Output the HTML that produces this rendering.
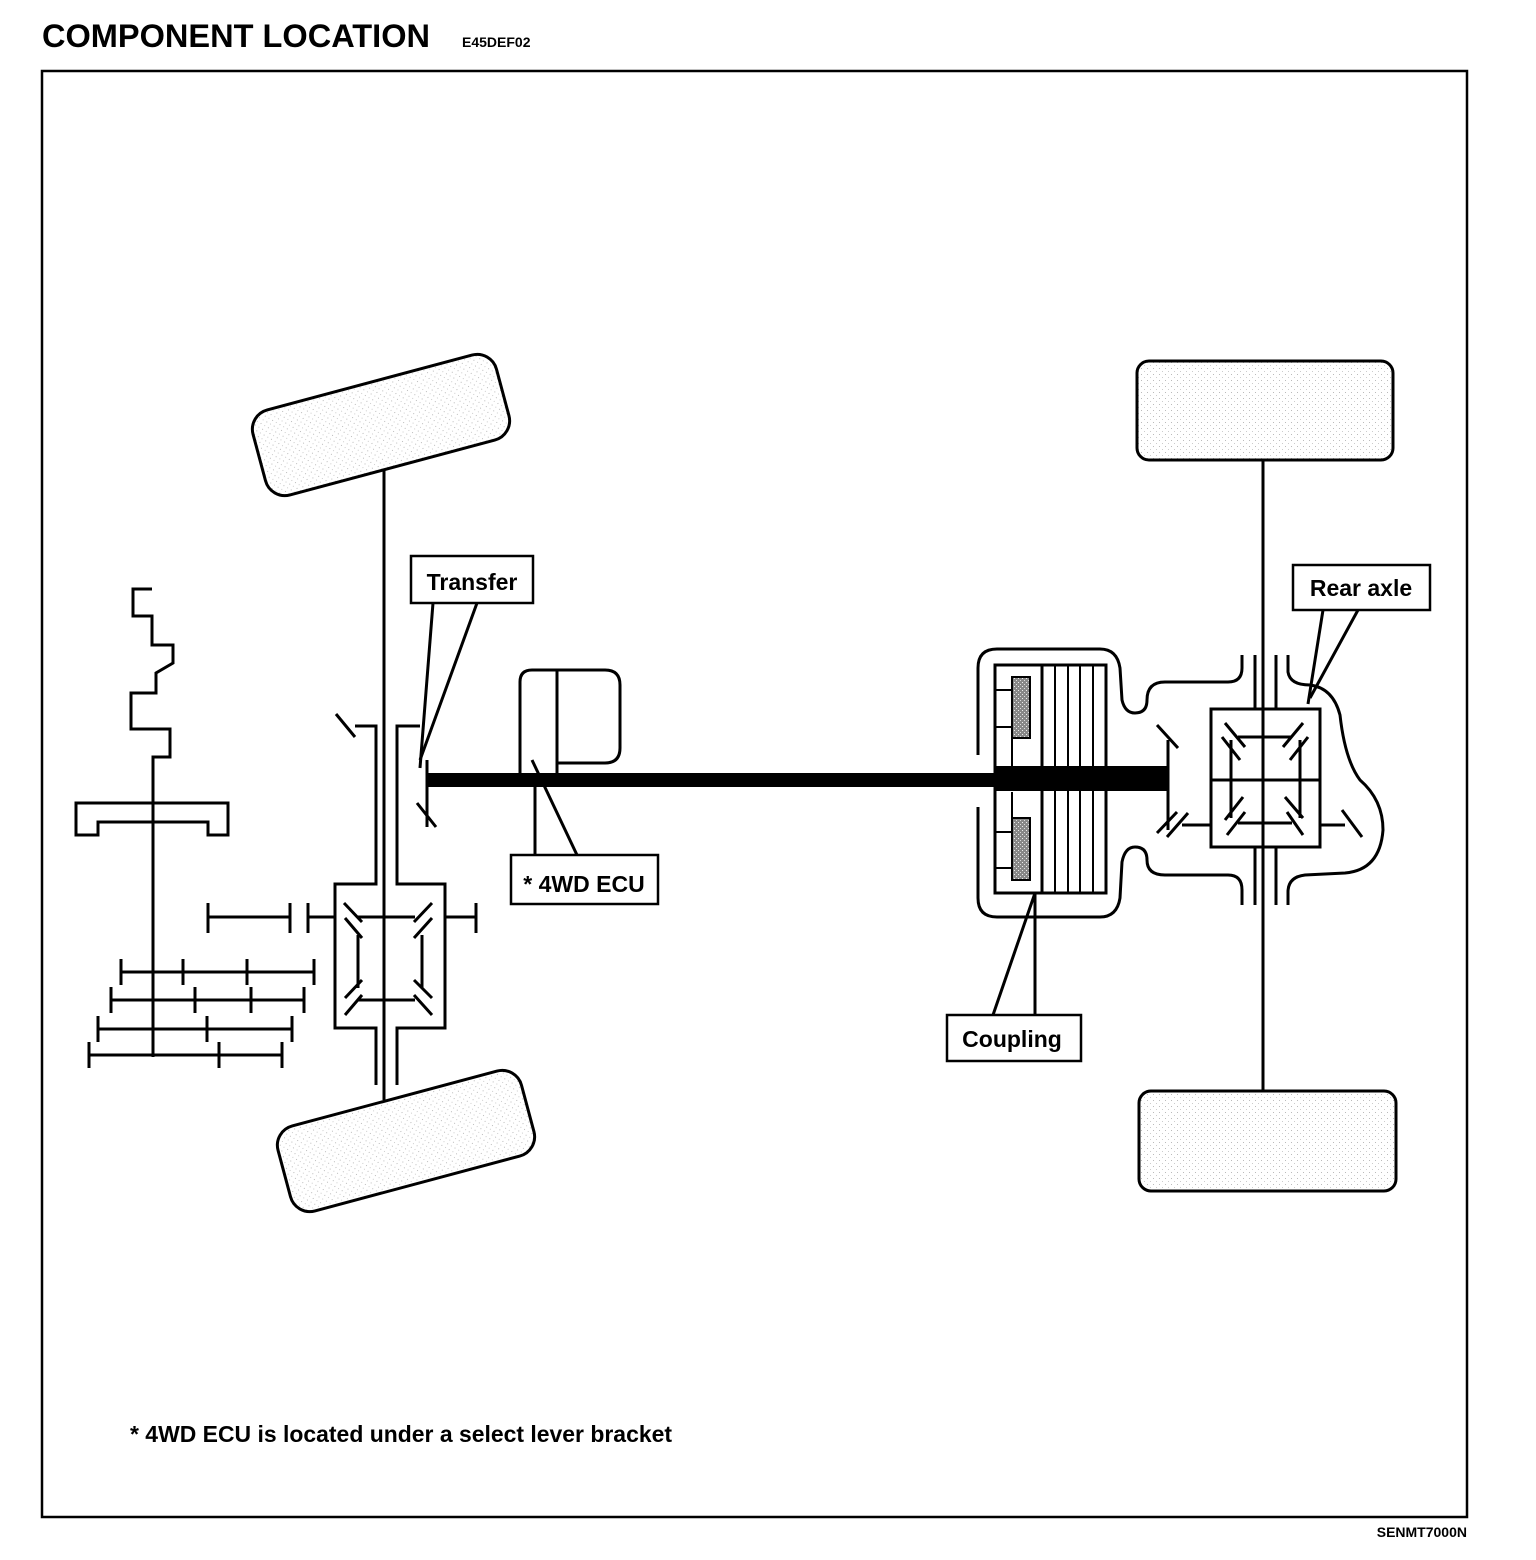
<!DOCTYPE html>
<html><head><meta charset="utf-8"><style>
html,body{margin:0;padding:0;background:#fff;}
svg{display:block;}
text{font-family:"Liberation Sans",Arial,sans-serif;}
</style></head><body>
<svg width="1536" height="1560" viewBox="0 0 1536 1560" xmlns="http://www.w3.org/2000/svg">
<defs>
<pattern id="dots" width="6" height="6" patternUnits="userSpaceOnUse">
<rect width="6" height="6" fill="#fff"/>
<rect x="1" y="2" width="1" height="1" fill="#bbb"/>
<rect x="4" y="5" width="1" height="1" fill="#ccc"/>
</pattern>
<pattern id="hatch" width="4" height="4" patternUnits="userSpaceOnUse">
<rect width="4" height="4" fill="#888"/>
<rect x="0" y="0" width="1" height="1" fill="#ddd"/>
<rect x="2" y="2" width="1" height="1" fill="#eee"/>
</pattern>
</defs>
<text x="42" y="47" font-size="32" font-weight="bold" textLength="388" lengthAdjust="spacingAndGlyphs">COMPONENT  LOCATION</text>
<text x="462" y="47" font-size="14" font-weight="bold">E45DEF02</text>
<rect x="42" y="71" width="1425" height="1446" fill="none" stroke="#000" stroke-width="2.5"/>
<text x="1467" y="1537" font-size="14" font-weight="bold" text-anchor="end">SENMT7000N</text>
<text x="130" y="1442" font-size="23" font-weight="bold" textLength="542" lengthAdjust="spacingAndGlyphs">* 4WD ECU is located under a select lever bracket</text>

<g stroke="#000" stroke-width="3" fill="none" stroke-linecap="butt" stroke-linejoin="miter">
<rect x="255" y="381" width="252" height="88" rx="20" transform="rotate(-15 381 425)" fill="url(#dots)"/>
<rect x="280" y="1097" width="252" height="88" rx="20" transform="rotate(-15 406 1141)" fill="url(#dots)"/>
<rect x="1137" y="361" width="256" height="99" rx="12" fill="url(#dots)"/>
<rect x="1139" y="1091" width="257" height="100" rx="12" fill="url(#dots)"/>

<line x1="384" y1="470" x2="384" y2="1100"/>
<line x1="336" y1="714" x2="355" y2="737"/>
<polyline points="355,726 376,726 376,884 335,884 335,1028 376,1028 376,1085"/>
<polyline points="420,726 397,726 397,884 445,884 445,1028 397,1028 397,1085"/>
<line x1="427" y1="760" x2="427" y2="827"/>
<line x1="417" y1="803" x2="436" y2="827"/>
<line x1="433" y1="603" x2="420" y2="768"/>
<line x1="477" y1="603" x2="420" y2="760"/>
<line x1="208" y1="917" x2="290" y2="917"/>
<line x1="208" y1="903" x2="208" y2="933"/>
<line x1="290" y1="903" x2="290" y2="933"/>
<line x1="308" y1="903" x2="308" y2="933"/>
<line x1="308" y1="917" x2="335" y2="917"/>
<line x1="445" y1="917" x2="476" y2="917"/>
<line x1="476" y1="903" x2="476" y2="933"/>
<line x1="358" y1="917" x2="415" y2="917"/>
<line x1="358" y1="1000" x2="415" y2="1000"/>
<line x1="358" y1="935" x2="358" y2="988"/>
<line x1="422" y1="935" x2="422" y2="988"/>
<line x1="344" y1="903" x2="362" y2="922"/>
<line x1="345" y1="918" x2="362" y2="938"/>
<line x1="432" y1="903" x2="414" y2="922"/>
<line x1="432" y1="918" x2="414" y2="938"/>
<line x1="362" y1="980" x2="345" y2="998"/>
<line x1="362" y1="995" x2="345" y2="1015"/>
<line x1="414" y1="980" x2="432" y2="998"/>
<line x1="414" y1="995" x2="432" y2="1015"/>

<polyline points="152,589 133,589 133,616 152,616 152,645 173,645 173,663 156,673 156,693 131,693 131,729 170,729 170,757 153,757 153,1057"/>
<polygon points="76,803 228,803 228,835 208,835 208,822 98,822 98,835 76,835"/>
<line x1="121" y1="972" x2="314" y2="972"/>
<line x1="121" y1="959" x2="121" y2="985"/><line x1="183" y1="959" x2="183" y2="985"/><line x1="247" y1="959" x2="247" y2="985"/><line x1="314" y1="959" x2="314" y2="985"/>
<line x1="111" y1="1000" x2="304" y2="1000"/>
<line x1="111" y1="987" x2="111" y2="1013"/><line x1="195" y1="987" x2="195" y2="1013"/><line x1="251" y1="987" x2="251" y2="1013"/><line x1="304" y1="987" x2="304" y2="1013"/>
<line x1="98" y1="1029" x2="292" y2="1029"/>
<line x1="98" y1="1016" x2="98" y2="1042"/><line x1="207" y1="1016" x2="207" y2="1042"/><line x1="292" y1="1016" x2="292" y2="1042"/>
<line x1="89" y1="1055" x2="282" y2="1055"/>
<line x1="89" y1="1042" x2="89" y2="1068"/><line x1="219" y1="1042" x2="219" y2="1068"/><line x1="282" y1="1042" x2="282" y2="1068"/>

<path d="M520,773 L520,682 Q520,670 532,670 L605,670 Q620,670 620,685 L620,748 Q620,763 605,763 L557,763"/>
<line x1="557" y1="670" x2="557" y2="775"/>
<line x1="535" y1="787" x2="535" y2="855"/>
<line x1="532" y1="760" x2="577" y2="855"/>

<path d="M978,755 L978,668 Q978,649 997,649 L1100,649 Q1117,649 1120,668 L1122,700 Q1125,713 1135,713 Q1147,713 1147,700 Q1147,682 1165,682 L1228,682 Q1242,682 1242,668 L1242,655"/>
<path d="M978,807 L978,898 Q978,917 997,917 L1100,917 Q1117,917 1120,898 L1122,862 Q1125,847 1135,847 Q1147,847 1147,860 Q1147,875 1165,875 L1228,875 Q1242,875 1242,890 L1242,905"/>
<rect x="995" y="665" width="111" height="228"/>
<line x1="1042" y1="665" x2="1042" y2="893"/>
<line x1="1055" y1="665" x2="1055" y2="893" stroke-width="2"/>
<line x1="1068" y1="665" x2="1068" y2="893" stroke-width="2"/>
<line x1="1080" y1="665" x2="1080" y2="893" stroke-width="2"/>
<line x1="1093" y1="665" x2="1093" y2="893" stroke-width="2"/>
<line x1="995" y1="690" x2="1012" y2="690" stroke-width="2"/>
<line x1="995" y1="727" x2="1012" y2="727" stroke-width="2"/>
<line x1="995" y1="832" x2="1012" y2="832" stroke-width="2"/>
<line x1="995" y1="868" x2="1012" y2="868" stroke-width="2"/>
<rect x="1012" y="677" width="18" height="61" fill="url(#hatch)" stroke-width="2"/>
<rect x="1012" y="818" width="18" height="62" fill="url(#hatch)" stroke-width="2"/>
<line x1="1012" y1="738" x2="1012" y2="766" stroke-width="2"/>
<line x1="1012" y1="792" x2="1012" y2="818" stroke-width="2"/>
<line x1="993" y1="1015" x2="1035" y2="893"/>
<line x1="1035" y1="893" x2="1035" y2="1015"/>

<line x1="1168" y1="740" x2="1168" y2="830"/>
<line x1="1157" y1="725" x2="1178" y2="748"/>
<line x1="1157" y1="833" x2="1177" y2="812"/>
<line x1="1167" y1="837" x2="1188" y2="813"/>
<line x1="1182" y1="825" x2="1211" y2="825"/>

<rect x="1211" y="709" width="109" height="138"/>
<line x1="1263" y1="460" x2="1263" y2="1091"/>
<line x1="1255" y1="655" x2="1255" y2="709"/>
<line x1="1276" y1="655" x2="1276" y2="709"/>
<line x1="1255" y1="847" x2="1255" y2="905"/>
<line x1="1276" y1="847" x2="1276" y2="905"/>
<path d="M1288,655 L1288,672 Q1290,685 1310,685 Q1333,688 1340,715 Q1345,760 1360,780 Q1383,800 1383,830 Q1380,870 1345,873 L1305,875 Q1288,877 1288,892 L1288,905"/>
<line x1="1211" y1="780" x2="1320" y2="780"/>
<line x1="1238" y1="737" x2="1292" y2="737"/>
<line x1="1238" y1="823" x2="1292" y2="823"/>
<line x1="1231" y1="740" x2="1231" y2="818"/>
<line x1="1300" y1="740" x2="1300" y2="818"/>
<line x1="1225" y1="723" x2="1245" y2="747"/>
<line x1="1222" y1="737" x2="1240" y2="760"/>
<line x1="1303" y1="723" x2="1283" y2="747"/>
<line x1="1308" y1="737" x2="1290" y2="760"/>
<line x1="1243" y1="797" x2="1225" y2="820"/>
<line x1="1245" y1="812" x2="1227" y2="835"/>
<line x1="1285" y1="797" x2="1303" y2="818"/>
<line x1="1287" y1="812" x2="1303" y2="835"/>
<line x1="1320" y1="825" x2="1345" y2="825"/>
<line x1="1342" y1="810" x2="1362" y2="837"/>
<line x1="1323" y1="610" x2="1308" y2="704"/>
<line x1="1358" y1="610" x2="1310" y2="698"/>
</g>

<rect x="427" y="773" width="570" height="14" fill="#000"/>
<rect x="995" y="766" width="172" height="25" fill="#000"/>

<g stroke="#000" stroke-width="2.5" fill="#fff">
<rect x="411" y="556" width="122" height="47"/>
<rect x="511" y="855" width="147" height="49"/>
<rect x="947" y="1015" width="134" height="46"/>
<rect x="1293" y="565" width="137" height="45"/>
</g>
<g font-size="23" font-weight="bold">
<text x="472" y="590" text-anchor="middle">Transfer</text>
<text x="584" y="892" text-anchor="middle">* 4WD ECU</text>
<text x="1012" y="1047" text-anchor="middle">Coupling</text>
<text x="1361" y="596" text-anchor="middle">Rear axle</text>
</g>
</svg>
</body></html>
